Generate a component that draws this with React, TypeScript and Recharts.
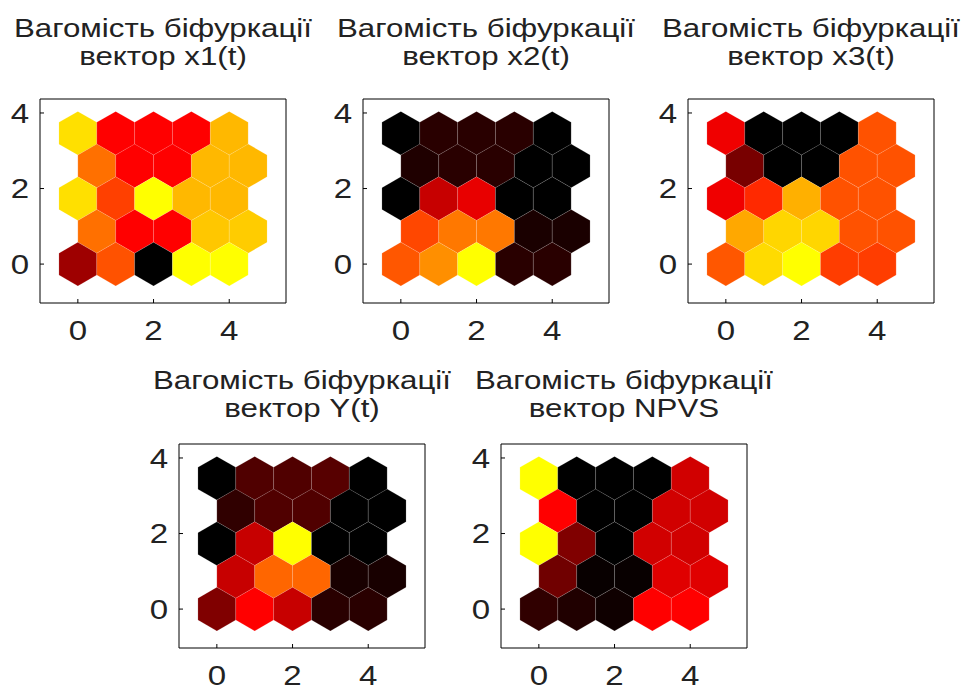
import { ScatterChart, Scatter, XAxis, YAxis } from 'recharts';

// SOM hex lattice (rows listed top to bottom)
const ROW_Y = [3.464, 2.598, 1.732, 0.866, 0];
const ROW_SHIFT = [0, 0.5, 0, 0.5, 0];
const COL_X = [0, 1, 2, 3, 4];
const TICKS = [0, 2, 4];

const x1Weights = [
  [0.94, 0.5, 0.5, 0.5, 0.86],
  [0.72, 0.5, 0.5, 0.86, 0.86],
  [0.94, 0.625, 1.0, 0.86, 0.86],
  [0.72, 0.5, 0.5, 0.89, 0.9],
  [0.31, 0.66, 0.0, 1.0, 1.0],
];
const x2Weights = [
  [0.0, 0.08, 0.08, 0.08, 0.0],
  [0.06, 0.08, 0.08, 0.0, 0.0],
  [0.0, 0.39, 0.455, 0.0, 0.0],
  [0.64, 0.735, 0.735, 0.05, 0.05],
  [0.67, 0.78, 1.0, 0.08, 0.08],
];
const x3Weights = [
  [0.47, 0.0, 0.0, 0.0, 0.66],
  [0.235, 0.0, 0.0, 0.66, 0.66],
  [0.47, 0.58, 0.845, 0.66, 0.66],
  [0.83, 0.92, 0.92, 0.66, 0.66],
  [0.67, 0.93, 1.0, 0.62, 0.62],
];
const yWeights = [
  [0.0, 0.157, 0.157, 0.17, 0.0],
  [0.094, 0.157, 0.157, 0.0, 0.0],
  [0.0, 0.39, 1.0, 0.0, 0.0],
  [0.39, 0.7, 0.7, 0.047, 0.047],
  [0.25, 0.5, 0.39, 0.08, 0.08],
];
const npvsWeights = [
  [1.0, 0.0, 0.0, 0.0, 0.41],
  [0.5, 0.0, 0.0, 0.41, 0.41],
  [1.0, 0.25, 0.0, 0.41, 0.41],
  [0.22, 0.016, 0.016, 0.44, 0.44],
  [0.094, 0.063, 0.03, 0.5, 0.5],
];

const TITLE = 'Вагомість біфуркації';
const subtitles = ['вектор x1(t)', 'вектор x2(t)', 'вектор x3(t)', 'вектор Y(t)', 'вектор NPVS'];

const X_DOMAIN: [number, number] = [-1, 5.5];
const Y_DOMAIN: [number, number] = [-1.03, 4.37];
const PLOT_W = 246;
const PLOT_H = 204;
const AXIS_W = 40;
const AXIS_H = 50;
const FRAME = 1; // size of the top/right frame axes
const FONT = '"Liberation Sans", Arial, sans-serif';
const INK = '#222';
const STRETCH = 1.18; // the source text is drawn wider than Arial

function heat(v: number) {
  const r = Math.round(255 * Math.min(1, v / 0.5));
  const g = Math.round(255 * Math.max(0, Math.min(1, (v - 0.5) / 0.5)));
  return `rgb(${r},${g},0)`;
}

function toCells(weights: number[][]) {
  const cells: { x: number; y: number; v: number }[] = [];
  weights.forEach((row, i) => {
    row.forEach((v, j) => {
      cells.push({ x: COL_X[j] + ROW_SHIFT[i], y: ROW_Y[i], v });
    });
  });
  return cells;
}

const unit = PLOT_W / (X_DOMAIN[1] - X_DOMAIN[0]);

function Hexagon(props: any) {
  const { cx, cy, payload } = props;
  const r = unit / Math.sqrt(3);
  const pts = [90, 150, 210, 270, 330, 30]
    .map((a) => {
      const t = (a * Math.PI) / 180;
      return `${cx + r * Math.cos(t)},${cy + r * Math.sin(t)}`;
    })
    .join(' ');
  return (
    <polygon
      points={pts}
      fill={heat(payload.v)}
      stroke="rgba(255,255,255,0.22)"
      strokeWidth={0.6}
    />
  );
}

const Nothing = () => <g />;

function BottomTick({ x, y, payload }: any) {
  return (
    <text
      transform={`translate(${x},${y}) scale(${STRETCH},1)`}
      textAnchor="middle"
      dy="0.71em"
      fontSize={28}
      fill={INK}
      fontFamily={FONT}
    >
      {payload.value}
    </text>
  );
}

function LeftTick({ x, y, payload }: any) {
  return (
    <text
      transform={`translate(${x},${y}) scale(${STRETCH},1)`}
      textAnchor="end"
      dy="0.355em"
      fontSize={28}
      fill={INK}
      fontFamily={FONT}
    >
      {payload.value}
    </text>
  );
}

function HexPanel({ weights, left, top }: { weights: number[][]; left: number; top: number }) {
  const data = toCells(weights);
  return (
    <div style={{ position: 'absolute', left: left - AXIS_W, top: top - FRAME }}>
      <ScatterChart
        width={AXIS_W + PLOT_W + FRAME}
        height={FRAME + PLOT_H + AXIS_H}
        margin={{ top: 0, right: 0, bottom: 0, left: 0 }}
      >
        <XAxis
          xAxisId="main"
          type="number"
          dataKey="x"
          domain={X_DOMAIN}
          ticks={TICKS}
          allowDataOverflow
          height={AXIS_H}
          tickSize={-4}
          tickMargin={21}
          tick={<BottomTick />}
          stroke="#000"
        />
        <XAxis
          xAxisId="top"
          orientation="top"
          type="number"
          dataKey="x"
          domain={X_DOMAIN}
          ticks={TICKS}
          allowDataOverflow
          height={FRAME}
          tickSize={-4}
          tick={false}
          stroke="#000"
        />
        <YAxis
          yAxisId="main"
          type="number"
          dataKey="y"
          domain={Y_DOMAIN}
          ticks={TICKS}
          allowDataOverflow
          width={AXIS_W}
          tickSize={-4}
          tickMargin={15}
          tick={<LeftTick />}
          stroke="#000"
        />
        <YAxis
          yAxisId="right"
          orientation="right"
          type="number"
          dataKey="y"
          domain={Y_DOMAIN}
          ticks={TICKS}
          allowDataOverflow
          width={FRAME}
          tickSize={-4}
          tick={false}
          stroke="#000"
        />
        <Scatter
          xAxisId="main"
          yAxisId="main"
          data={data}
          shape={Hexagon}
          isAnimationActive={false}
        />
        {/* carries the top/right frame axes */}
        <Scatter
          xAxisId="top"
          yAxisId="right"
          data={data}
          shape={Nothing}
          legendType="none"
          isAnimationActive={false}
        />
      </ScatterChart>
    </div>
  );
}

function TitleLine({ text, center, baseline }: { text: string; center: number; baseline: number }) {
  return (
    <div
      style={{
        position: 'absolute',
        left: center - 200,
        width: 400,
        top: baseline - 24.2,
        textAlign: 'center',
        fontFamily: FONT,
        fontSize: 26.5,
        lineHeight: '30px',
        color: INK,
        whiteSpace: 'nowrap',
        transform: `scaleX(${STRETCH})`,
        transformOrigin: 'center',
      }}
    >
      {text}
    </div>
  );
}

const panels = [
  { weights: x1Weights, left: 40, top: 99, titleBase: 37.5 },
  { weights: x2Weights, left: 363, top: 99, titleBase: 37.5 },
  { weights: x3Weights, left: 688, top: 99, titleBase: 37.5 },
  { weights: yWeights, left: 179, top: 444, titleBase: 389 },
  { weights: npvsWeights, left: 501, top: 444, titleBase: 389 },
];

export default function App() {
  return (
    <div style={{ position: 'absolute', left: 0, top: 0, width: 961, height: 686, background: '#fff', overflow: 'hidden' }}>
      {panels.map((p, i) => {
        const c = p.left + PLOT_W / 2;
        return (
          <div key={i}>
            <TitleLine text={TITLE} center={c} baseline={p.titleBase} />
            <TitleLine text={subtitles[i]} center={c} baseline={p.titleBase + 28} />
            <HexPanel weights={p.weights} left={p.left} top={p.top} />
          </div>
        );
      })}
    </div>
  );
}
